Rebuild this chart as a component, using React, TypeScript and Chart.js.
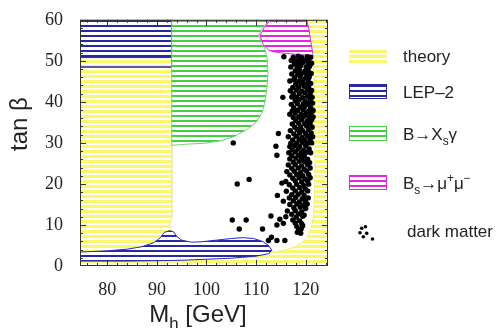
import React, { useEffect, useRef } from 'react';
import { Chart, registerables } from 'chart.js';
Chart.register(...registerables);

// ---- axis data ----
const xRange = [74.5, 124.5];
const yRange = [0, 60];
const xTickValues = [80, 90, 100, 110, 120];
const yTickValues = [0, 10, 20, 30, 40, 50, 60];

// ---- excluded regions (M_h, tan beta) ----
const theoryRegion: number[][] = [
  [74.5, 0], [74.5, 50.8], [93, 50.8], [93, 12], [92.5, 10], [93, 8.6], [94, 7], [97, 5], [104, 3.5],
  [110, 2.5], [113.3, 3.4], [115.5, 3.8], [117.5, 4.5], [119.2, 5.6], [120.4, 7.2], [121.2, 9.5],
  [121.6, 12.5], [121.8, 17], [121.9, 25], [121.8, 35], [121.7, 45], [121.5, 50], [121.4, 51.3],
  [121, 55], [120.6, 58], [120.2, 60], [124.5, 60], [124.5, 0],
];
const lepTopRegion: number[][] = [
  [74.5, 60], [93, 60], [93, 50.8], [74.5, 50.8], [74.5, 60],
];
const lepTopEdge: number[][] = [
  [74.5, 48.5], [93, 48.5], [93, 50.8],
];
const lepBottomRegion: number[][] = [
  [74.5, 1.2], [74.5, 3.4], [80, 3.7], [84, 4.1], [87, 4.7], [89.4, 5.7], [90.7, 6.9], [91.5, 8.2],
  [92.6, 8.6], [93.4, 8.3], [94, 7.2], [95, 6.3], [97, 5.8], [99, 5.9], [102, 6.3], [105, 6.7],
  [107.4, 6.9], [109.5, 6.7], [111.3, 6], [112.5, 5], [113.2, 3.8], [112.5, 3], [110, 2.4],
  [105, 1.9], [95, 1.4], [85, 1.2], [74.5, 1.2],
];
const bsgRegion: number[][] = [
  [93, 60], [112.9, 60], [112, 59], [111, 57.5], [110.5, 56], [111.5, 54], [112.2, 51], [112.4, 47],
  [112.2, 43.7], [111.8, 40], [111.2, 37.3], [110, 35], [108.2, 33.3], [105.5, 31.5], [102.8, 30.5],
  [99.5, 29.9], [96.1, 29.7], [93, 29.4], [93, 60],
];
const bsmumuRegion: number[][] = [
  [112.9, 60], [120.2, 60], [120.6, 58], [121, 55], [121.5, 51.3], [119, 51.5], [116, 51.8],
  [113.5, 52.2], [112.6, 52.6], [111.4, 54], [110.8, 56.2], [111.6, 58], [112.9, 60],
];

// ---- dark matter points (M_h, tan beta) ----
const darkMatter: number[][] = [
  [115.6, 51.0], [117.5, 50.9], [118.5, 51.1], [119.2, 50.8], [120.3, 51.0], [121.0, 50.9],
  [117.1, 50.1], [118.1, 50.0], [119.0, 50.4], [119.9, 50.1], [120.6, 50.2],
  [117.7, 49.2], [118.6, 49.4], [119.4, 49.6], [120.5, 49.3], [121.2, 49.4],
  [117.0, 48.5], [118.3, 48.4], [119.0, 48.8], [120.1, 48.5], [120.8, 48.7],
  [117.9, 47.6], [118.7, 47.9], [119.8, 47.5], [120.5, 47.8],
  [117.2, 46.8], [118.4, 46.7], [119.2, 47.0], [120.2, 46.8], [121.1, 46.9],
  [117.8, 45.9], [118.9, 46.2], [120.0, 45.8], [120.7, 46.0],
  [116.8, 45.1], [117.6, 45.4], [118.6, 45.0], [119.4, 45.2], [120.5, 45.3],
  [118.0, 44.3], [119.2, 44.5], [120.1, 44.3], [121.0, 44.5],
  [117.4, 43.5], [118.6, 43.6], [119.7, 43.8], [120.6, 43.5],
  [116.9, 42.7], [118.1, 42.9], [119.2, 42.6], [120.3, 42.9], [121.2, 42.8],
  [117.5, 41.9], [118.7, 42.0], [119.8, 42.2], [120.9, 41.9],
  [115.4, 41.1], [117.2, 41.2], [118.2, 41.1], [119.4, 41.0], [120.4, 41.3], [121.3, 41.1],
  [117.9, 40.3], [118.7, 40.5], [119.9, 40.1], [120.9, 40.4],
  [117.1, 39.4], [118.3, 39.6], [119.5, 39.5], [120.4, 39.4], [121.4, 39.7],
  [117.6, 38.6], [118.9, 38.7], [119.8, 38.9], [121.0, 38.6],
  [117.3, 37.8], [118.4, 37.9], [119.5, 38.1], [120.6, 37.8], [121.5, 37.9],
  [116.8, 37.0], [117.9, 37.3], [119.1, 37.0], [120.1, 37.2], [121.1, 37.1],
  [117.5, 36.2], [118.6, 36.3], [119.7, 36.5], [120.7, 36.2], [121.5, 36.3],
  [118.0, 35.4], [119.2, 35.7], [120.3, 35.3], [121.2, 35.6],
  [117.3, 34.6], [118.6, 34.8], [119.8, 34.7], [120.9, 34.6],
  [117.8, 33.8], [119.0, 33.9], [120.2, 34.1], [121.3, 33.8],
  [116.9, 33.0], [118.3, 33.2], [119.4, 33.0], [120.6, 33.2],
  [114.5, 32.3], [117.6, 32.2], [118.8, 32.4], [120.0, 32.3], [121.1, 32.4],
  [116.5, 31.5], [118.1, 31.6], [119.3, 31.3], [120.4, 31.6], [121.4, 31.5],
  [117.4, 30.7], [118.7, 30.9], [119.8, 30.6], [120.9, 30.8],
  [105.4, 30.0], [117.0, 29.9], [118.2, 30.0], [119.3, 30.1], [120.4, 29.9], [121.2, 30.0],
  [114.0, 29.2], [116.8, 29.1], [117.8, 29.3], [118.8, 29.1], [120.0, 29.3],
  [117.3, 28.3], [118.5, 28.5], [119.6, 28.2], [120.7, 28.5],
  [116.6, 27.6], [117.9, 27.8], [119.1, 27.5], [120.2, 27.7], [121.0, 27.6],
  [114.2, 27.0], [117.2, 26.9], [118.6, 27.0], [119.7, 26.8],
  [116.8, 26.1], [118.0, 26.3], [119.2, 26.2], [120.4, 26.0],
  [117.5, 25.3], [118.7, 25.5], [119.8, 25.4], [120.8, 25.2],
  [116.5, 24.6], [117.9, 24.7], [119.2, 24.4], [120.4, 24.7],
  [117.2, 23.8], [118.5, 23.9], [119.7, 23.6], [120.9, 23.9],
  [116.2, 23.0], [117.7, 23.1], [119.0, 22.8], [120.2, 23.1],
  [116.8, 22.2], [118.2, 22.3], [119.4, 22.0], [120.6, 22.3],
  [117.4, 21.4], [118.7, 21.5], [119.9, 21.2], [120.9, 21.5],
  [108.6, 21.1], [116.0, 20.6], [117.9, 20.7], [119.2, 20.5], [120.4, 20.7],
  [106.2, 20.0], [115.2, 20.2], [116.7, 19.8], [118.2, 19.9], [119.6, 19.6], [120.6, 19.9],
  [117.4, 19.0], [118.8, 19.1], [119.9, 18.8],
  [116.1, 18.2], [117.9, 18.3], [119.2, 18.0], [120.4, 18.3],
  [114.3, 17.2], [117.2, 17.4], [118.5, 17.5], [119.7, 17.2],
  [116.7, 16.6], [118.0, 16.7], [119.3, 16.4], [120.5, 16.6],
  [115.5, 15.8], [117.5, 15.9], [118.7, 15.6], [119.9, 15.9],
  [116.8, 15.0], [118.2, 15.1], [119.5, 14.8], [120.3, 15.1],
  [117.6, 14.2], [118.9, 14.3], [120.0, 14.0],
  [116.3, 13.4], [117.9, 13.5], [119.2, 13.2],
  [117.2, 12.6], [118.5, 12.7], [119.7, 12.4],
  [113.0, 12.2], [116.0, 12.0], [118.1, 11.9], [119.4, 12.1],
  [105.2, 11.2], [108.0, 11.2], [114.8, 11.4], [117.4, 11.2], [118.8, 11.0],
  [115.5, 10.4], [117.9, 10.5], [119.2, 10.3],
  [114.2, 10.0], [118.2, 9.6], [119.4, 9.8],
  [106.6, 9.0], [111.3, 9.0], [118.6, 8.8], [119.1, 9.1],
  [118.3, 8.2], [119.0, 8.0],
  [113.1, 7.0], [112.5, 6.2], [114.2, 6.2], [115.8, 6.2],
];

// ---- legend ----
const legendLabels = ['theory', 'LEP\u20132', 'B\u2192X_{s}\u03b3', 'B_{s}\u2192\u03bc^{+}\u03bc^{\u2212}', 'dark matter'];
const xTitle = 'M_{h} [GeV]';
const yTitle = 'tan \u03b2';

type Seg = { t: string; k: number };
function parseRich(s: string): Seg[] {
  const segs: Seg[] = [];
  const re = /([_^])\{([^}]*)\}|([^_^]+)/g;
  let m: RegExpExecArray | null;
  while ((m = re.exec(s))) {
    if (m[3]) segs.push({ t: m[3], k: 0 });
    else segs.push({ t: m[2], k: m[1] === '_' ? 1 : 2 });
  }
  return segs;
}
function richWidth(ctx: CanvasRenderingContext2D, segs: Seg[], size: number, fam: string) {
  let w = 0;
  for (const s of segs) {
    ctx.font = `${s.k ? size * 0.7 : size}px ${fam}`;
    w += ctx.measureText(s.t).width;
  }
  return w;
}
function drawRich(ctx: CanvasRenderingContext2D, segs: Seg[], x: number, y: number, size: number, fam: string) {
  ctx.textAlign = 'left';
  ctx.textBaseline = 'alphabetic';
  let cx = x;
  for (const s of segs) {
    const fs = s.k ? size * 0.7 : size;
    ctx.font = `${fs}px ${fam}`;
    const dy = s.k === 1 ? size * 0.3 : s.k === 2 ? -size * 0.38 : 0;
    ctx.fillText(s.t, cx, y + dy);
    cx += ctx.measureText(s.t).width;
  }
}

const SANS = '"Liberation Sans", Arial, sans-serif';
const SERIF = '"Liberation Serif", "Times New Roman", serif';

export default function App() {
  const ref = useRef<HTMLCanvasElement | null>(null);
  useEffect(() => {
    document.body.style.margin = '0';
    const canvas = ref.current!;
    const mainCtx = canvas.getContext('2d')!;
    const hatch = (color: string, lw: number, period: number) => {
      const c = document.createElement('canvas');
      c.width = 8;
      c.height = period;
      const g = c.getContext('2d')!;
      g.fillStyle = '#ffffff';
      g.fillRect(0, 0, 8, period);
      g.fillStyle = color;
      g.fillRect(0, 0, 8, lw);
      return mainCtx.createPattern(c, 'repeat')!;
    };
    const yellowP = hatch('rgb(252,248,110)', 3, 5);
    const blueP = hatch('rgb(40,40,160)', 2, 5);
    const greenP = hatch('rgb(70,205,70)', 2, 5);
    const magentaP = hatch('rgb(225,40,225)', 2, 5);

    const pts = (a: number[][]) => a.map(([x, y]) => ({ x, y }));
    const region = (data: number[][], border: string, bg: any, order: number, bw = 1) => ({
      data: pts(data),
      borderColor: border,
      borderWidth: bw,
      backgroundColor: bg,
      fill: 'shape',
      pointRadius: 0,
      tension: 0,
      order,
    });

    const legendStyles = [
      { p: yellowP, c: 'rgb(245,235,120)', cy: 56 },
      { p: blueP, c: 'rgb(40,40,160)', cy: 91.5 },
      { p: greenP, c: 'rgb(70,205,70)', cy: 133.5 },
      { p: magentaP, c: 'rgb(225,40,225)', cy: 182.5 },
    ];

    const decor = {
      id: 'decor',
      afterDraw(chart: any) {
        const ctx: CanvasRenderingContext2D = chart.ctx;
        const { left, right, top, bottom } = chart.chartArea;
        const xs = chart.scales.x;
        const ys = chart.scales.y;
        ctx.save();
        ctx.strokeStyle = '#333';
        ctx.lineWidth = 1;
        ctx.strokeRect(left + 0.5, top + 0.5, right - left - 1, bottom - top - 1);
        ctx.beginPath();
        for (let v = 76; v <= 124; v += 2) {
          const px = Math.round(xs.getPixelForValue(v)) + 0.5;
          const len = v % 10 === 0 ? 6 : 3;
          ctx.moveTo(px, bottom); ctx.lineTo(px, bottom - len);
          ctx.moveTo(px, top); ctx.lineTo(px, top + len);
        }
        for (let v = 2; v < 60; v += 2) {
          const py = Math.round(ys.getPixelForValue(v)) + 0.5;
          const len = v % 10 === 0 ? 6 : 3;
          ctx.moveTo(left, py); ctx.lineTo(left + len, py);
          ctx.moveTo(right, py); ctx.lineTo(right - len, py);
        }
        ctx.stroke();
        ctx.fillStyle = '#222';
        const xt = parseRich(xTitle);
        const xw = richWidth(ctx, xt, 24, SANS);
        drawRich(ctx, xt, 198 - xw / 2, 322, 24, SANS);
        ctx.save();
        ctx.translate(27, 124);
        ctx.rotate(-Math.PI / 2);
        const yt = parseRich(yTitle);
        const yw = richWidth(ctx, yt, 24, SANS);
        drawRich(ctx, yt, -yw / 2, 0, 24, SANS);
        ctx.restore();
        legendStyles.forEach((s, i) => {
          const bx = 349, bw = 38, bh = 15;
          const by = Math.round(s.cy - bh / 2);
          ctx.fillStyle = s.p;
          ctx.fillRect(bx, by, bw, bh);
          if (i > 0) {
            ctx.strokeStyle = s.c;
            ctx.lineWidth = 1;
            ctx.strokeRect(bx + 0.5, by + 0.5, bw - 1, bh - 1);
          }
          ctx.fillStyle = '#222';
          drawRich(ctx, parseRich(legendLabels[i]), 403, s.cy + 6, 17, SANS);
        });
        ctx.fillStyle = '#000';
        const dots = [[361.7, 228.3], [365.5, 226.7], [360, 232.7], [366.7, 233.3], [363.3, 236.7], [372.5, 239]];
        for (const [dx, dy] of dots) {
          ctx.beginPath();
          ctx.arc(dx, dy, 1.8, 0, Math.PI * 2);
          ctx.fill();
        }
        ctx.fillStyle = '#222';
        drawRich(ctx, parseRich(legendLabels[4]), 407, 237, 17, SANS);
        ctx.restore();
      },
    };

    const chart = new Chart(canvas, {
      type: 'line',
      data: {
        datasets: [
          {
            data: pts(darkMatter),
            showLine: false,
            pointRadius: 2.7,
            pointBackgroundColor: '#000',
            pointBorderWidth: 0,
            order: 0,
          } as any,
          region(bsmumuRegion, 'rgb(225,40,225)', magentaP, 1),
          region(bsgRegion, 'rgb(110,215,110)', greenP, 2),
          region(lepTopRegion, 'rgb(40,40,160)', blueP, 3),
          region(lepBottomRegion, 'rgb(40,40,200)', blueP, 3),
          { data: pts(lepTopEdge), borderColor: 'rgb(40,40,160)', borderWidth: 1.5, pointRadius: 0, fill: false, order: 3 } as any,
          region(theoryRegion, 'rgb(240,235,130)', yellowP, 5),
        ],
      },
      options: {
        responsive: false,
        animation: false,
        events: [],
        layout: { padding: { left: 0, top: 15, right: 170, bottom: 0 } },
        plugins: { legend: { display: false }, tooltip: { enabled: false } },
        scales: {
          x: {
            type: 'linear',
            min: xRange[0],
            max: xRange[1],
            grid: { display: false },
            border: { display: false },
            afterFit: (s: any) => { s.height = 62; },
            afterBuildTicks: (s: any) => { s.ticks = xTickValues.map((v) => ({ value: v })); },
            ticks: { font: { family: SERIF, size: 18 }, color: '#222', padding: 5, maxRotation: 0, autoSkip: false },
          },
          y: {
            type: 'linear',
            min: yRange[0],
            max: yRange[1],
            grid: { display: false },
            border: { display: false },
            afterFit: (s: any) => { s.width = 80; },
            afterBuildTicks: (s: any) => { s.ticks = yTickValues.map((v) => ({ value: v })); },
            ticks: { font: { family: SERIF, size: 18 }, color: '#222', padding: 9, autoSkip: false },
          },
        },
      } as any,
      plugins: [decor],
    });
    return () => chart.destroy();
  }, []);
  return <canvas ref={ref} width={498} height={328} style={{ display: 'block' }} />;
}
